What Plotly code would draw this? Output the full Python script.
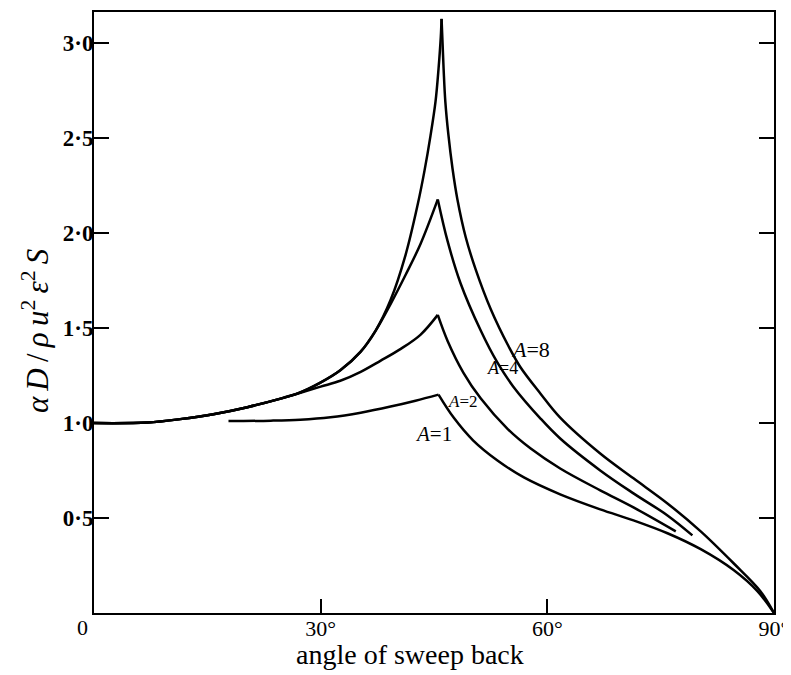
import plotly.graph_objects as go

# ---- data (angle of sweep back in degrees, value) ----
common_x = [0, 7.1, 11.4, 15.8, 20.3, 24.7, 26.9]
common_y = [1.00, 1.003, 1.021, 1.047, 1.084, 1.129, 1.155]

A8_left_x = common_x + [29.97, 32.6, 35.27, 37.26, 39.25, 41.23, 42.82, 43.75, 44.54, 45.2, 45.6, 45.9, 46.0]
A8_left_y = common_y + [1.213, 1.278, 1.375, 1.486, 1.648, 1.885, 2.147, 2.331, 2.514, 2.693, 2.866, 3.034, 3.129]
A8_right_x = [46.0, 46.27, 46.5, 46.9, 47.45, 48.1, 49.2, 50.5, 52.5, 54.9, 56.4, 59.1, 61.7, 67.0, 71.4, 75.9, 80.3, 84.65, 88.2, 90]
A8_right_y = [3.129, 2.866, 2.693, 2.520, 2.341, 2.178, 1.979, 1.811, 1.601, 1.402, 1.297, 1.155, 1.029, 0.840, 0.709, 0.577, 0.430, 0.262, 0.115, 0]

A4_left_x = common_x + [29.97, 32.6, 35.27, 37.26, 39.25, 41.23, 43.2, 45.5]
A4_left_y = common_y + [1.213, 1.278, 1.375, 1.486, 1.627, 1.780, 1.942, 2.178]
A4_right_x = [45.5, 46.8, 48.5, 51.2, 53.4, 55.5, 59.1, 61.7, 67.0, 71.4, 75.9, 79.2]
A4_right_y = [2.178, 1.958, 1.738, 1.486, 1.318, 1.192, 1.024, 0.919, 0.751, 0.630, 0.514, 0.409]

A2_left_x = common_x + [30.0, 32.6, 35.3, 37.9, 40.6, 43.2, 45.5]
A2_left_y = common_y + [1.192, 1.223, 1.270, 1.328, 1.391, 1.465, 1.570]
A2_right_x = [45.5, 46.8, 48.9, 51.2, 54.7, 57.8, 61.7, 67.0, 71.4, 77.0]
A2_right_y = [1.570, 1.433, 1.265, 1.129, 0.971, 0.866, 0.761, 0.646, 0.556, 0.430]

A1_left_x = [17.8, 23.4, 27.3, 31.3, 35.3, 39.25, 42.55, 45.6]
A1_left_y = [1.0105, 1.013, 1.018, 1.031, 1.055, 1.087, 1.118, 1.150]
A1_right_x = [45.6, 47.6, 50.2, 53.4, 56.9, 61.7, 67.0, 71.4, 75.9, 80.3, 84.65, 87.8, 90]
A1_right_y = [1.150, 1.029, 0.908, 0.803, 0.714, 0.625, 0.546, 0.488, 0.420, 0.336, 0.226, 0.115, 0]

x_tick_vals = [30, 60, 90]
x_tick_text = ["30°", "60°", "90°"]
y_tick_vals = [0.5, 1.0, 1.5, 2.0, 2.5, 3.0]
y_tick_text = ["0·5", "1·0", "1·5", "2·0", "2·5", "3·0"]

curve_labels = ["A=8", "A=4", "A=2", "A=1"]
label_x = [57.8, 54.0, 48.8, 44.9]
label_y = [1.386, 1.29, 1.113, 0.945]
label_size = [22, 18, 17, 21]

SERIF = "Liberation Serif, Times New Roman, serif"

fig = go.Figure()
branches = [
    (A8_left_x, A8_left_y), (A8_right_x, A8_right_y),
    (A4_left_x, A4_left_y), (A4_right_x, A4_right_y),
    (A2_left_x, A2_left_y), (A2_right_x, A2_right_y),
    (A1_left_x, A1_left_y), (A1_right_x, A1_right_y),
]
for bx, by in branches:
    fig.add_trace(go.Scatter(
        x=bx, y=by, mode="lines",
        line=dict(color="black", width=2.5, shape="spline", smoothing=1.0),
        showlegend=False, hoverinfo="skip",
    ))

for txt, lx, ly, ls in zip(curve_labels, label_x, label_y, label_size):
    a, rest = txt.split("=")
    fig.add_annotation(
        x=lx, y=ly, xref="x", yref="y", showarrow=False,
        text=f"<i>{a}</i>={rest}",
        font=dict(family=SERIF, size=ls, color="black"),
    )

# axis titles and the lone "0" label
fig.add_annotation(
    x=0.465, y=-0.0697, xref="paper", yref="paper", showarrow=False,
    text="angle of sweep back", font=dict(family=SERIF, size=28, color="black"),
    xanchor="center", yanchor="middle",
)
ts = "\u2009"
fig.add_annotation(
    x=-0.0868, y=0.469, xref="paper", yref="paper", showarrow=False,
    text=(f"<i>α{ts}D</i>{ts}/{ts}<i>ρ{ts}u</i><sup>2</sup>{ts}<i>ε</i><sup>2</sup>{ts}<i>S</i>"),
    font=dict(family=SERIF, size=31, color="black"), textangle=-90,
    xanchor="center", yanchor="middle",
)
fig.add_annotation(
    x=-0.0176, y=-0.0249, xref="paper", yref="paper", showarrow=False,
    text="0", font=dict(family=SERIF, size=22, color="black"),
    xanchor="center", yanchor="middle",
)

fig.update_layout(
    width=783, height=667,
    margin=dict(l=86, r=17, t=2, b=62),
    paper_bgcolor="white", plot_bgcolor="white",
    xaxis=dict(
        range=[0, 90], tickvals=x_tick_vals, ticktext=x_tick_text,
        ticks="inside", ticklen=14, tickwidth=1.5, tickcolor="black",
        showline=True, linecolor="black", linewidth=2, mirror=True,
        showgrid=False, zeroline=False, ticklabelstandoff=-5,
        tickfont=dict(family=SERIF, size=22, color="black"),
    ),
    yaxis=dict(
        range=[0, 3.165], tickvals=y_tick_vals, ticktext=y_tick_text,
        ticks="inside", ticklen=15, tickwidth=1.5, tickcolor="black",
        showline=True, linecolor="black", linewidth=2, mirror="ticks",
        showgrid=False, zeroline=False, ticklabelstandoff=-6,
        tickfont=dict(family=SERIF, size=23, color="black", weight="bold"),
    ),
)

fig.write_html("out.html")
